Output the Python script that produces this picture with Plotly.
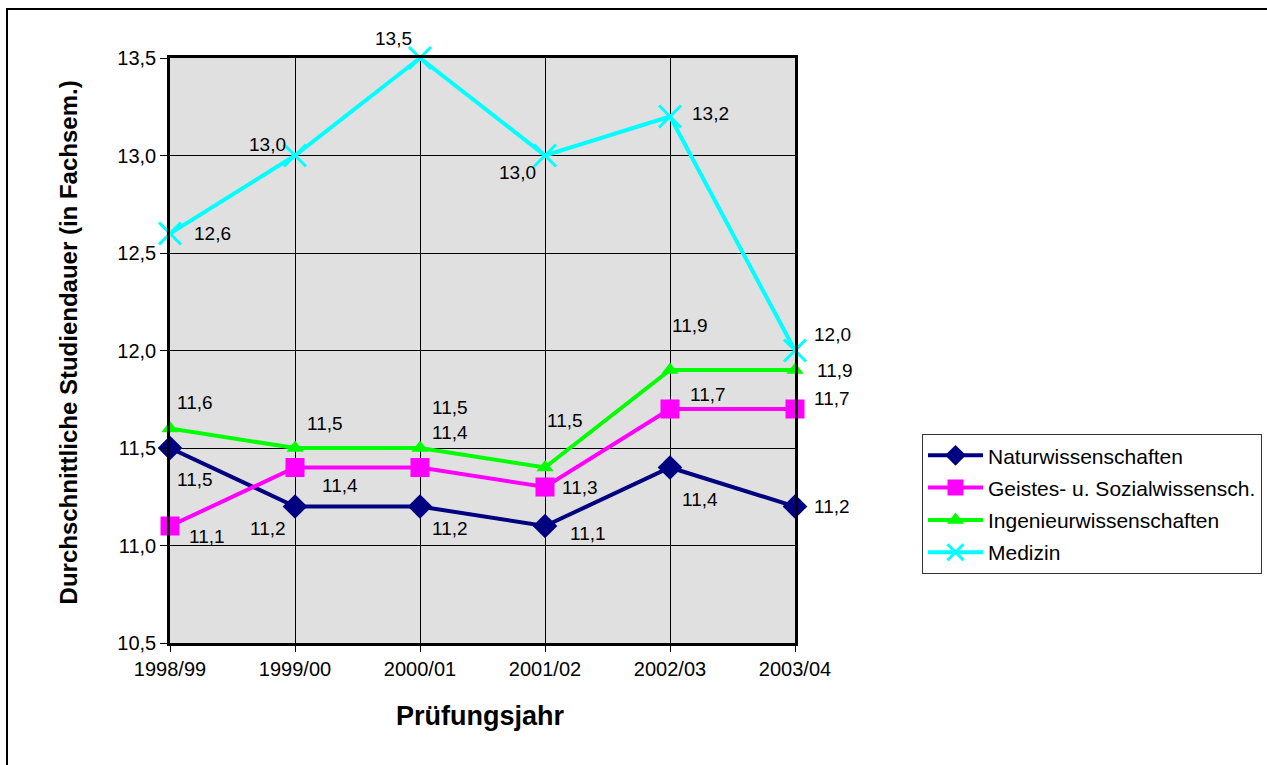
import plotly.graph_objects as go

# ---------------- data ----------------
years = ["1998/99", "1999/00", "2000/01", "2001/02", "2002/03", "2003/04"]

natur = [11.5, 11.2, 11.2, 11.1, 11.4, 11.2]
geistes = [11.1, 11.4, 11.4, 11.3, 11.7, 11.7]
ingenieur = [11.6, 11.5, 11.5, 11.4, 11.9, 11.9]
medizin = [12.6, 13.0, 13.5, 13.0, 13.2, 12.0]

natur_labels = ["11,5", "11,2", "11,2", "11,1", "11,4", "11,2"]
geistes_labels = ["11,1", "11,4", "11,4", "11,3", "11,7", "11,7"]
ingenieur_labels = ["11,6", "11,5", "11,5", "11,5", "11,9", "11,9"]
medizin_labels = ["12,6", "13,0", "13,5", "13,0", "13,2", "12,0"]

series_names = ["Naturwissenschaften", "Geistes- u. Sozialwissensch.",
                "Ingenieurwissenschaften", "Medizin"]

# ---------------- styles ----------------
colors = ["#000080", "#ff00ff", "#00ff00", "#00ffff"]
symbols = ["diamond", "square", "triangle-up", "x-thin"]
msizes = [19, 19, 15, 22]

# label offsets in pixels (xshift, yshift) per series/point
label_offsets = [
    [(25, -31), (-27, -22), (30, -22), (43, -7), (30, -32), (37, 0)],
    [(37, -10), (45, -18), (30, 35), (35, 0), (38, 15), (37, 11)],
    [(25, 26), (30, 25), (30, 41), (20, 47), (20, 45), (40, 0)],
    [(42, 0), (-28, 11), (-27, 20), (-28, -17), (40, 3), (37, 16)],
]

FONT = "Liberation Sans, Arial, sans-serif"

values = [natur, geistes, ingenieur, medizin]
labels = [natur_labels, geistes_labels, ingenieur_labels, medizin_labels]

fig = go.Figure()
for i, (name, vals, col, sym, ms) in enumerate(zip(series_names, values, colors, symbols, msizes)):
    fig.add_trace(go.Scatter(
        x=years, y=vals, name=name, mode="lines+markers",
        legendgroup=f"g{i}",
        line=dict(color=col, width=4),
        marker=dict(symbol=sym, size=ms, color=col,
                    line=dict(color=col, width=3 if sym == "x-thin" else 0)),
        cliponaxis=False,
    ))

annotations = []
for vals, labs, offs in zip(values, labels, label_offsets):
    for yr, v, t, (dx, dy) in zip(years, vals, labs, offs):
        annotations.append(dict(
            x=yr, y=v, xref="x", yref="y", text=t, showarrow=False,
            xshift=dx, yshift=dy, font=dict(family=FONT, size=19, color="#000000"),
        ))

# axis titles
annotations.append(dict(
    text="<b>Durchschnittliche Studiendauer (in Fachsem.)</b>",
    xref="paper", yref="paper", x=-0.163, y=0.514, showarrow=False,
    xanchor="center", yanchor="middle",
    textangle=-90, font=dict(family=FONT, size=24, color="#000000"),
))
annotations.append(dict(
    text="<b>Prüfungsjahr</b>",
    xref="paper", yref="paper", x=0.496, y=-0.1248, showarrow=False,
    xanchor="center", yanchor="middle",
    font=dict(family=FONT, size=27, color="#000000"),
))

fig.update_layout(
    width=1267, height=765,
    margin=dict(l=170, r=472, t=58, b=122, autoexpand=False),
    paper_bgcolor="#ffffff",
    plot_bgcolor="#e0e0e0",
    separators=",.",
    font=dict(family=FONT, size=20, color="#000000"),
    showlegend=True,
    legend=dict(
        x=1.2032, y=0.357, xanchor="left", yanchor="top",
        bgcolor="#ffffff", bordercolor="#333333", borderwidth=1,
        font=dict(family=FONT, size=21, color="#000000"),
        itemwidth=55, tracegroupgap=2,
    ),
    annotations=annotations,
    shapes=[dict(
        type="rect", xref="paper", yref="paper",
        x0=-0.2608, x1=1.9, y0=-0.4, y1=1.0838,
        line=dict(color="#000000", width=2), fillcolor="rgba(0,0,0,0)", layer="above",
    )],
)

fig.update_xaxes(
    type="category", range=[0, 5],
    showgrid=True, gridcolor="#000000", gridwidth=1,
    showline=True, linecolor="#000000", linewidth=2.5, mirror=True,
    ticks="outside", ticklen=6, tickcolor="#000000",
    tickfont=dict(family=FONT, size=20), zeroline=False,
)
fig.update_yaxes(
    range=[10.5, 13.5], dtick=0.5, tick0=10.5, tickformat=".1f",
    showgrid=True, gridcolor="#000000", gridwidth=1,
    showline=True, linecolor="#000000", linewidth=2.5, mirror=True,
    ticks="outside", ticklen=7, tickcolor="#000000",
    tickfont=dict(family=FONT, size=20), zeroline=False,
)

fig.write_html(
    "out.html",
    config={"displayModeBar": False},
    post_script="document.body.style.margin='0';document.body.style.overflow='hidden';",
)
